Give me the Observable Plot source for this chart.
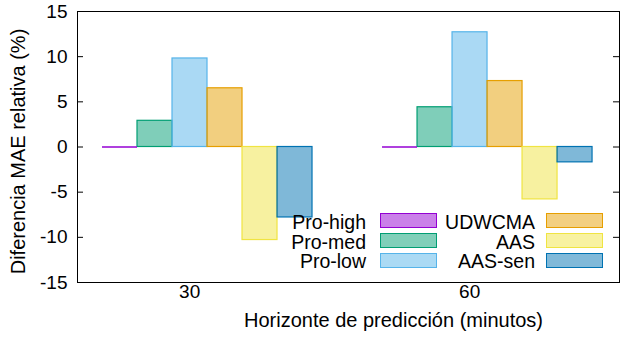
<!DOCTYPE html>
<html>
<head>
<meta charset="utf-8">
<script src="https://cdn.jsdelivr.net/npm/d3@7"></script>
<script src="https://cdn.jsdelivr.net/npm/@observablehq/plot@0.6"></script>
<style>
  html, body { margin: 0; padding: 0; background: #fff; }
  #wrap { position: relative; width: 621px; height: 343px; font-family: "Liberation Sans", Arial, sans-serif; }
  .leg { position: absolute; font-size: 19.5px; color: #000; line-height: 18px; height: 18px; white-space: nowrap; }
  .sw { position: absolute; box-sizing: border-box; width: 57px; height: 15px; border: 1px solid; }
</style>
</head>
<body>
<div id="wrap"></div>
<script>
const groups = ["30", "60"];
const series = ["Pro-high", "Pro-med", "Pro-low", "UDWCMA", "AAS", "AAS-sen"];
const colors = ["#9400d3", "#009e73", "#56b4e9", "#e69f00", "#f0e442", "#0072b2"];
const values30 = [0, 2.9, 9.8, 6.5, -10.3, -7.8];
const values60 = [0, 4.4, 12.7, 7.3, -5.8, -1.7];
const yTicks = [-15, -10, -5, 0, 5, 10, 15];
const yTitle = "Diferencia MAE relativa (%)";
const xTitle = "Horizonte de predicción (minutos)";

const groupValues = [values30, values60];
const rows = [];
groupValues.forEach((vals, g) => {
  vals.forEach((v, i) => {
    rows.push({group: groups[g], series: series[i], x1: g * 8 + i, x2: g * 8 + i + 1, value: v});
  });
});
const flat = rows.filter(d => d.value === 0);

const fontFamily = '"Liberation Sans", Arial, sans-serif';
const W = 621, ML = 77, MR = 2;
const frameW = W - ML - MR;

const chart = Plot.plot({
  width: W,
  height: 343,
  marginLeft: ML,
  marginRight: MR,
  marginTop: 11,
  marginBottom: 61,
  style: {fontFamily, fontSize: "19px", color: "#000", background: "#fff"},
  x: {type: "linear", domain: [-0.714, 14.77], axis: null},
  y: {domain: [-15, 15], axis: null},
  color: {domain: series, range: colors},
  marks: [
    Plot.rect(rows, {x1: "x1", x2: "x2", y1: 0, y2: "value", fill: "series", fillOpacity: 0.5, stroke: "series", strokeWidth: 1.2}),
    Plot.ruleY(flat, {x1: "x1", x2: "x2", y: "value", stroke: "series", strokeWidth: 1.5}),
    Plot.frame({stroke: "#000", strokeWidth: 1}),
    Plot.tickY(yTicks, {y: d => d, insetRight: frameW - 6, stroke: "#000"}),
    Plot.tickY(yTicks, {y: d => d, insetLeft: frameW - 6, stroke: "#000"}),
    Plot.axisY({anchor: "left", ticks: yTicks, tickSize: 0, tickPadding: 10, label: null, fontSize: 19, tickFormat: d => String(d)}),
    Plot.text(groups, {x: (d, i) => 2.49 + i * 8, frameAnchor: "bottom", dy: 15, fontSize: 19, fill: "#000"}),
    Plot.text([xTitle], {frameAnchor: "bottom", textAnchor: "middle", dx: 45, dy: 44, fontSize: 20, fill: "#000"}),
    Plot.text([yTitle], {frameAnchor: "left", textAnchor: "middle", rotate: -90, dx: -59, dy: 4.5, fontSize: 20, fill: "#000"})
  ]
});

const wrap = document.getElementById("wrap");
wrap.appendChild(chart);

// legend inside the plot area, two columns of three
const colTextRight = [366, 535];
const colSwatchLeft = [380, 546];
const rowCenter = [220.7, 240.5, 260];
series.forEach((s, k) => {
  const col = Math.floor(k / 3), row = k % 3;
  const t = document.createElement("div");
  t.className = "leg";
  t.textContent = s;
  t.style.right = (W - colTextRight[col]) + "px";
  t.style.top = (rowCenter[row] - 8) + "px";
  t.style.textAlign = "right";
  wrap.appendChild(t);
  const sw = document.createElement("div");
  sw.className = "sw";
  sw.style.left = colSwatchLeft[col] + "px";
  sw.style.top = (rowCenter[row] - 7.5) + "px";
  sw.style.borderColor = colors[k];
  sw.style.background = d3.interpolateRgb("#ffffff", colors[k])(0.5);
  wrap.appendChild(sw);
});
</script>
</body>
</html>
